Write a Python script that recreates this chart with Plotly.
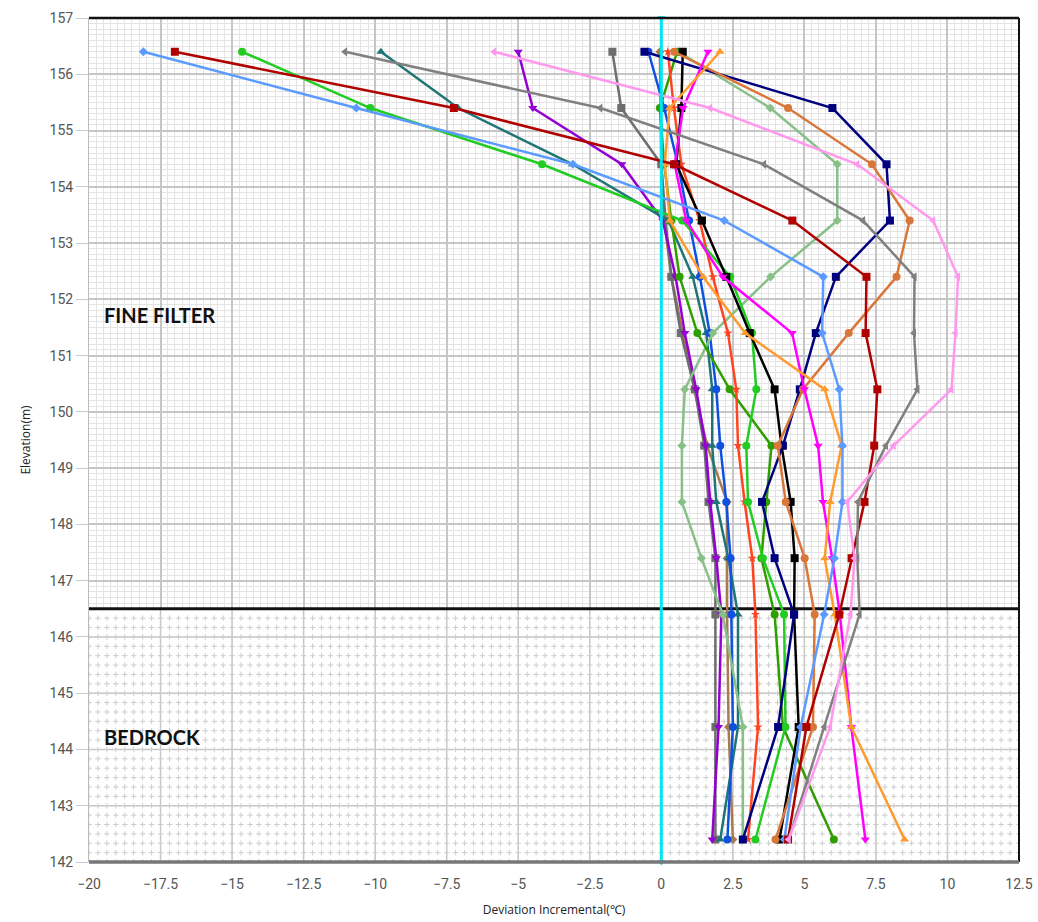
import plotly.graph_objects as go
import numpy as np

# ---------------- data ----------------
elevation = [156.4, 155.4, 154.4, 153.4, 152.4, 151.4, 150.4, 149.4, 148.4, 147.4, 146.4, 144.4, 142.4]

light_blue = [-18.1, -10.66, -3.09, 2.2, 5.66, 5.62, 6.22, 6.33, 6.33, 6.05, 5.69, 4.87, 4.3]
dark_red   = [-17.0, -7.25, 0.44, 4.58, 7.17, 7.14, 7.55, 7.44, 7.1, 6.65, 6.22, 5.07, 4.43]
green      = [-14.65, -10.17, -4.17, 0.73, 2.41, 3.17, 3.32, 2.97, 3.03, 3.55, 4.29, 4.34, 3.29]
gray_tri   = [-11.05, -2.13, 3.59, 7.05, 8.85, 8.83, 8.95, 7.85, 6.87, 6.85, 6.93, 5.7, 4.45]
teal       = [-9.8, -7.1, -3.1, 0.25, 1.1, 1.57, 1.78, 1.78, 1.92, 2.34, 2.68, 2.68, 2.06]
pink       = [-5.84, 1.71, 6.85, 9.5, 10.37, 10.28, 10.14, 8.12, 6.5, 6.75, 6.61, 5.9, 4.45]
purple     = [-5.0, -4.49, -1.38, 0.05, 0.5, 0.82, 1.22, 1.55, 1.71, 1.92, 2.1, 2.0, 1.78]
gray_sq    = [-1.71, -1.4, 0.0, 0.15, 0.35, 0.68, 1.17, 1.5, 1.65, 1.89, 1.89, 1.89, 1.89]
navy       = [-0.59, 5.98, 7.87, 7.99, 6.1, 5.4, 4.84, 4.25, 3.52, 3.96, 4.64, 4.08, 2.85]
sienna     = [0.45, 4.43, 7.36, 8.68, 8.22, 6.55, 4.95, 4.07, 4.35, 5.01, 5.36, 5.3, 3.99]
sage       = [0.6, 3.81, 6.15, 6.15, 3.82, 1.8, 0.82, 0.72, 0.72, 1.4, 2.15, 2.85, 2.85]
black      = [0.75, 0.7, 0.52, 1.42, 2.27, 3.09, 3.96, 4.2, 4.52, 4.66, 4.64, 4.8, 4.13]
magenta    = [1.63, 0.76, 0.47, 0.87, 2.15, 4.57, 5.0, 5.48, 5.65, 5.97, 6.24, 6.64, 7.13]
orange     = [2.05, 0.29, 0.12, 0.3, 1.46, 2.93, 5.71, 6.3, 5.9, 5.71, 6.06, 6.64, 8.5]
blue       = [-0.45, 0.1, 0.58, 0.97, 1.35, 1.69, 1.92, 2.06, 2.27, 2.42, 2.45, 2.5, 2.31]
red_orange = [0.23, 0.44, 0.7, 1.34, 1.8, 2.33, 2.62, 2.68, 2.91, 3.18, 3.29, 3.38, 3.03]
dark_green = [0.55, -0.05, 0.1, 0.35, 0.64, 1.26, 2.39, 3.85, 3.67, 3.5, 3.96, 4.25, 6.03]
tan        = [-0.05, -0.03, 0.0, 0.1, 0.35, 0.75, 1.15, 1.6, 2.3, 2.3, 2.3, 2.35, 2.5]

zero_x = [0, 0]
zero_y = [157, 142]

boundary_elev = 146.5
x_range = [-20, 12.5]
y_range = [142, 157]

series = [
    ("tan", tan, "#A87A50", "diamond", 7),
    ("gray_sq", gray_sq, "#6E6E6E", "square", 8),
    ("purple", purple, "#9400D3", "triangle-down", 8),
    ("teal", teal, "#1F7575", "triangle-up", 8),
    ("blue", blue, "#1050E0", "circle", 8),
    ("sage", sage, "#88C088", "diamond", 7),
    ("dark_green", dark_green, "#2E9E00", "circle", 8),
    ("red_orange", red_orange, "#FF4422", "star", 7),
    ("green", green, "#22CC22", "circle", 8),
    ("black", black, "#000000", "square", 8),
    ("navy", navy, "#00007F", "square", 8),
    ("sienna", sienna, "#D9773A", "circle", 8),
    ("magenta", magenta, "#FF00FF", "triangle-down", 8),
    ("orange", orange, "#FF9A2E", "triangle-up", 8),
    ("light_blue", light_blue, "#5B9BFF", "diamond", 7),
    ("dark_red", dark_red, "#B00000", "square", 8),
    ("gray_tri", gray_tri, "#808080", "triangle-left", 8),
    ("pink", pink, "#FF99EE", "triangle-left", 8),
]

fig = go.Figure()

# dotted "+" background pattern in the bedrock zone
px, py = [], []
for xv in np.arange(-20, 12.5 + 1e-9, 2.5 / 8):
    for yv in np.arange(142, boundary_elev - 0.05, 1 / 6):
        px.append(xv)
        py.append(yv)
fig.add_trace(go.Scatter(x=px, y=py, mode="markers",
                         marker=dict(symbol="cross-thin", size=4,
                                     line=dict(width=1, color="#cdcdcd")),
                         hoverinfo="skip", showlegend=False))

for name, vals, color, sym, size in series:
    fig.add_trace(go.Scatter(
        x=vals, y=elevation, mode="lines+markers", name=name,
        line=dict(color=color, width=2.5),
        marker=dict(color=color, symbol=sym, size=size),
        showlegend=False))

fig.add_trace(go.Scatter(x=zero_x, y=zero_y, mode="lines+markers",
                         line=dict(color="#00E5F0", width=3),
                         marker=dict(symbol="triangle-down", size=7, color="#00E5F0"),
                         showlegend=False, cliponaxis=False))

shapes = []
shapes.append(dict(type="rect", xref="x", yref="y", x0=x_range[0], x1=x_range[1],
                   y0=y_range[0], y1=boundary_elev, fillcolor="white",
                   line=dict(width=0), layer="between"))
for xv in np.arange(-17.5, 12.5, 2.5):
    shapes.append(dict(type="line", xref="x", yref="y", x0=xv, x1=xv,
                       y0=y_range[0], y1=boundary_elev,
                       line=dict(color="#c6c6c6", width=1.5), layer="between"))
for yv in [143, 144, 145, 146]:
    shapes.append(dict(type="line", xref="x", yref="y", x0=x_range[0], x1=x_range[1],
                       y0=yv, y1=yv, line=dict(color="#c6c6c6", width=1.5), layer="between"))
shapes.append(dict(type="line", xref="x", yref="y", x0=x_range[0], x1=x_range[1],
                   y0=boundary_elev, y1=boundary_elev,
                   line=dict(color="#111111", width=3), layer="between"))
shapes.append(dict(type="line", xref="paper", yref="paper", x0=0, x1=1, y0=1, y1=1,
                   line=dict(color="#111111", width=2.5)))
shapes.append(dict(type="line", xref="paper", yref="paper", x0=1, x1=1, y0=0, y1=1,
                   line=dict(color="#111111", width=2)))
shapes.append(dict(type="line", xref="paper", yref="paper", x0=0, x1=1, y0=0, y1=0,
                   line=dict(color="#777777", width=3.5)))

annotations = [
    dict(x=-19.55, y=151.72, xref="x", yref="y", text="<b>FINE FILTER</b>",
         showarrow=False, xanchor="left", yanchor="middle",
         font=dict(family="Lato, sans-serif", size=20, color="#111111")),
    dict(x=-19.55, y=144.22, xref="x", yref="y", text="<b>BEDROCK</b>",
         showarrow=False, xanchor="left", yanchor="middle",
         font=dict(family="Lato, sans-serif", size=20, color="#111111")),
]

tick_font = dict(family="Liberation Sans Narrow, Roboto, sans-serif", size=14, color="#555555")

fig.update_layout(
    width=1038, height=922,
    margin=dict(l=89, r=19, t=18, b=60),
    paper_bgcolor="white", plot_bgcolor="white",
    showlegend=False,
    shapes=shapes, annotations=annotations,
    xaxis=dict(range=x_range, dtick=2.5, tick0=0, showgrid=True, automargin=False,
               gridcolor="#c6c6c6", gridwidth=1.5,
               minor=dict(dtick=0.25, showgrid=True, gridcolor="#e4e4e4", gridwidth=1),
               zeroline=False, showline=False,
               ticks="outside", ticklen=9, tickcolor="rgba(0,0,0,0)",
               tickfont=tick_font,
               title=dict(text="Deviation Incremental(℃)", standoff=14,
                          font=dict(family="Open Sans, sans-serif", size=12, color="#222222"))),
    yaxis=dict(range=y_range, dtick=1, showgrid=True, automargin=False,
               gridcolor="#c6c6c6", gridwidth=1.5,
               minor=dict(dtick=0.1, showgrid=True, gridcolor="#e4e4e4", gridwidth=1),
               zeroline=False, showline=True, linecolor="#bbbbbb", linewidth=1,
               ticks="outside", ticklen=12, tickcolor="#c0cfe0",
               tickfont=tick_font,
               title=dict(text="Elevation(m)", standoff=16,
                          font=dict(family="Open Sans, sans-serif", size=12, color="#222222"))),
)

fig.write_html("out.html", config={"displayModeBar": False},
               post_script="document.body.style.margin='0';document.body.style.overflow='hidden';")
